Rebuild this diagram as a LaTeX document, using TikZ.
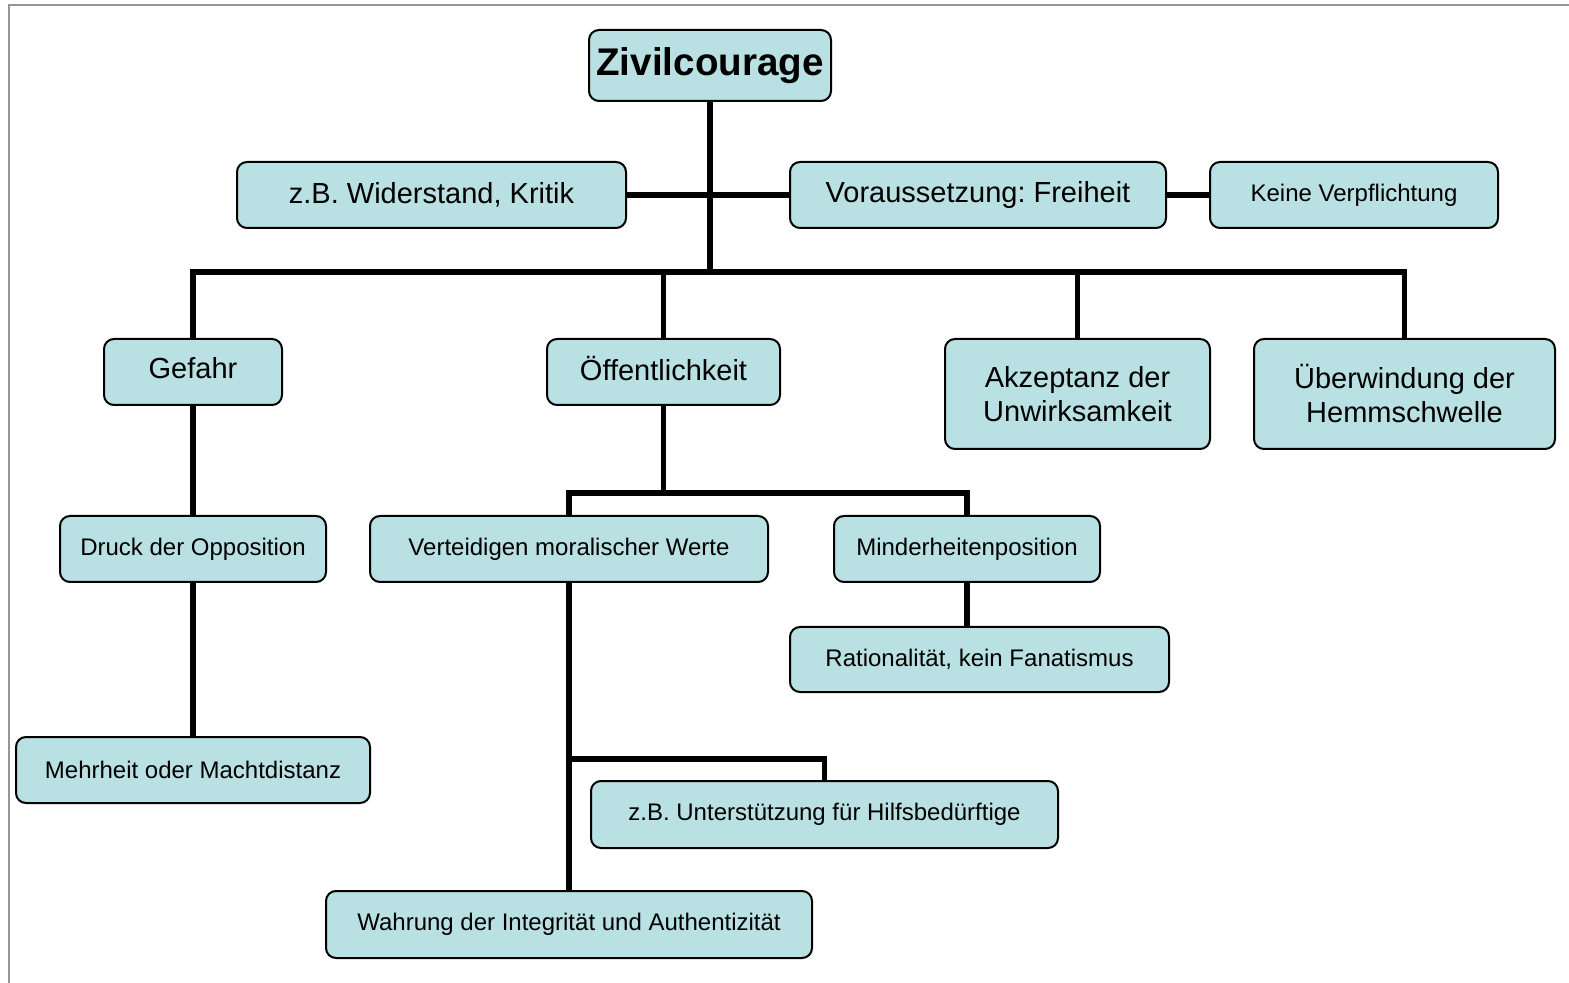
\documentclass[tikz,border=0pt]{standalone}
\usepackage{fontspec}
\setmainfont{Liberation Sans}
\usepackage{xcolor}
\definecolor{boxblue}{RGB}{185,224,227}
\definecolor{framegray}{RGB}{150,150,150}
\tikzset{
  box/.style={ % rounded light blue box
    draw, rectangle, rounded corners=5pt,
    line width=1pt, fill=boxblue, text=black,
    inner sep=0pt, align=center
  },
  bigbox/.style={box, font=\fontsize{14.5}{17}\selectfont},
  smallbox/.style={box, font=\fontsize{12}{14}\selectfont},
  conn/.style={line width=2.7pt, black},
  frame/.style={line width=1pt, framegray}
}
\begin{document}
\frenchspacing
\begin{tikzpicture}[x=0.5pt, y=-0.5pt]
  \useasboundingbox (0,0) rectangle (1569,983);
  \draw[frame] (9,983) -- (9,5) -- (1569,5);

  \coordinate (bus) at (710,272);
  \coordinate (oefbus) at (663.5,493);
  \coordinate (vbr) at (569,759);

  % top level
  \node[box, font=\fontsize{19.3}{22}\selectfont\bfseries,
        minimum width=121pt, minimum height=35.5pt] (ziv) at (710,65.5) {Zivilcourage};
  \node[bigbox, minimum width=194.5pt, minimum height=33pt] (wid) at (431.5,195) {z.B. Widerstand, Kritik};
  \node[bigbox, minimum width=188pt, minimum height=33pt] (vor) at (978,195) {Voraussetzung: Freiheit};
  \node[smallbox, minimum width=144pt, minimum height=33pt] (kei) at (1354,195) {Keine Verpflichtung};

  % second level
  \node[bigbox, minimum width=89pt, minimum height=33pt, text depth=4pt] (gef) at (193,372) {Gefahr};
  \node[bigbox, minimum width=116.5pt, minimum height=33pt, text depth=4pt] (oef) at (663.5,372) {Öffentlichkeit};
  \node[bigbox, minimum width=132.5pt, minimum height=55pt] (akz) at (1077.5,394) {Akzeptanz der\\Unwirksamkeit};
  \node[bigbox, minimum width=150.5pt, minimum height=55pt] (ueb) at (1404.5,394) {Überwindung der\\Hemmschwelle};

  % third level
  \node[smallbox, minimum width=133pt, minimum height=33pt] (dru) at (193,549) {Druck der Opposition};
  \node[smallbox, minimum width=199pt, minimum height=33pt] (vert) at (569,549) {Verteidigen moralischer Werte};
  \node[smallbox, minimum width=133pt, minimum height=33pt] (mind) at (967,549) {Minderheitenposition};
  \node[smallbox, minimum width=189.5pt, minimum height=32.5pt] (rat) at (979.5,659.5) {Rationalität, kein Fanatismus};
  \node[smallbox, minimum width=177pt, minimum height=33pt] (mehr) at (193,770) {Mehrheit oder Machtdistanz};
  \node[smallbox, minimum width=233.5pt, minimum height=33.5pt] (unt) at (824.5,814.5) {z.B. Unterstützung für Hilfsbedürftige};
  \node[smallbox, minimum width=243pt, minimum height=33.5pt] (wahr) at (569,924.5) {Wahrung der Integrität und Authentizität};

  \draw[conn] (ziv.south) -- (bus);
  \draw[conn] (wid.east) -- (vor.west);
  \draw[conn] (vor.east) -- (kei.west);
  \draw[conn] (gef.north) |- (bus) -| (ueb.north);
  \draw[conn] (oef.north) -- (oef.north |- bus);
  \draw[conn] (akz.north) -- (akz.north |- bus);

  \draw[conn] (gef.south) -- (dru.north);
  \draw[conn] (dru.south) -- (mehr.north);

  \draw[conn] (oef.south) -- (oefbus);
  \draw[conn] (vert.north) |- (oefbus) -| (mind.north);
  \draw[conn] (mind.south) -- (mind.south |- rat.north);

  \draw[conn] (vert.south) -- (wahr.north);
  \draw[conn] (vbr) -| (unt.north);
\end{tikzpicture}
\end{document}
